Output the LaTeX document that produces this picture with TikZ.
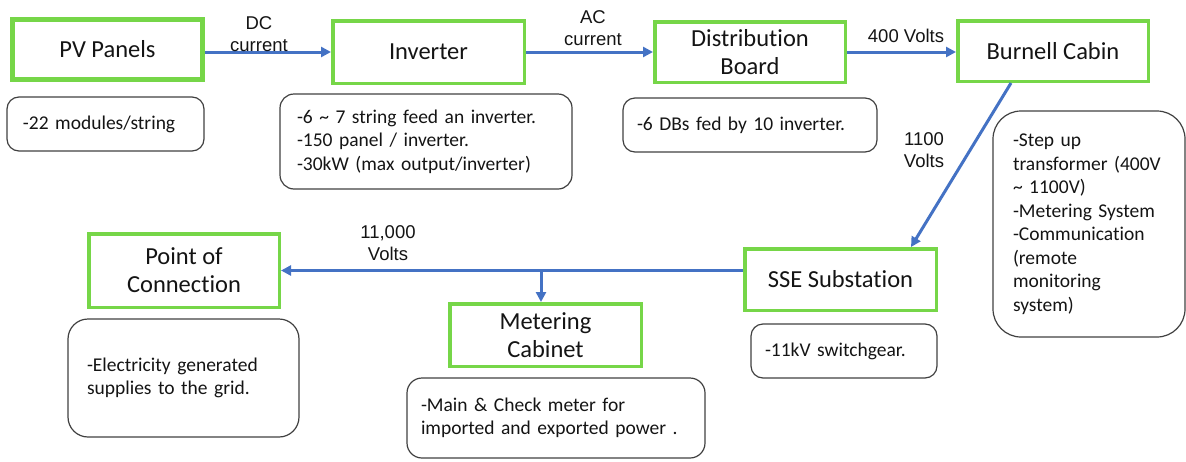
\documentclass[tikz,border=0pt]{standalone}
\usepackage{fontspec}
\setmainfont{Carlito}[Ligatures={NoCommon,NoDiscretionary}]
\newfontfamily\arialfont{Liberation Sans}
\usetikzlibrary{arrows.meta,calc}
\definecolor{boxgreen}{RGB}{118,214,72}
\definecolor{flowblue}{RGB}{68,114,196}
\definecolor{notegray}{RGB}{64,64,64}
\definecolor{txt}{RGB}{20,20,20}
\begin{document}
\begin{tikzpicture}[x=1pt,y=-1pt,
  stage/.style={draw=boxgreen, line width=3.5pt, fill=white, inner sep=0pt, align=center,
    font=\fontsize{24.5}{28}\selectfont, text=txt},
  note/.style={draw=notegray, line width=1.2pt, rounded corners=12pt, inner ysep=0pt, align=left,
    font=\fontsize{19.5}{23.5}\selectfont, text=txt},
  flow/.style={draw=flowblue, line width=3pt, -{Triangle[length=10pt,width=10pt]}},
  vlabel/.style={font=\arialfont\fontsize{18.5}{22}\selectfont, align=center, text=txt, inner sep=0pt}]
\useasboundingbox (0,0) rectangle (1186,461);

% stages
\node[stage, line width=5pt, minimum width=190pt, minimum height=60pt] (pv) at (107.5,49.5) {PV Panels};
\node[stage, minimum width=191.5pt, minimum height=62.5pt] (inv) at (428.5,52) {Inverter};
\node[stage, minimum width=190.5pt, minimum height=60.5pt] (db) at (750,52) {Distribution\\Board};
\node[stage, minimum width=190.5pt, minimum height=60.5pt] (bc) at (1053,51) {Burnell Cabin};
\node[stage, minimum width=190.5pt, minimum height=73.5pt] (poc) at (184,270.5) {Point of\\Connection};
\node[stage, minimum width=191.5pt, minimum height=62.5pt] (met) at (545.5,335) {Metering\\Cabinet};
\node[stage, minimum width=191.5pt, minimum height=61.5pt] (sse) at (840.5,279.5) {SSE Substation};

% notes
\node[note, minimum width=197pt, minimum height=54pt, inner xsep=16pt, text width=165pt] (pvn) at (105.5,124) {-22 modules/string};
\node[note, rounded corners=14pt, minimum width=292pt, minimum height=95pt, inner xsep=17pt, text width=258pt] (invn) at (426,141.5)
  {-6 \textasciitilde\ 7 string feed an inverter.\\-150 panel / inverter.\\-30kW (max output/inverter)};
\node[note, minimum width=254pt, minimum height=54pt, inner xsep=14pt, text width=226pt] (dbn) at (750,125) {-6 DBs fed by 10 inverter.};
\node[note, rounded corners=28pt, minimum width=192pt, minimum height=226pt, inner xsep=20pt, text width=152pt] (bcn) at (1089,224)
  {-Step up\\transformer (400V\\\textasciitilde\ 1100V)\\-Metering System\\-Communication\\(remote\\monitoring\\system)};
\node[note, rounded corners=20pt, minimum width=231pt, minimum height=118pt, inner xsep=19pt, text width=193pt] (pocn) at (183.5,378)
  {-Electricity generated\\supplies to the grid.};
\node[note, rounded corners=15pt, minimum width=298pt, minimum height=80pt, inner xsep=14pt, text width=270pt] (metn) at (556,418)
  {-Main \& Check meter for\\imported and exported power .};
\node[note, minimum width=186pt, minimum height=54pt, inner xsep=14pt, text width=158pt] (ssen) at (844,351) {-11kV switchgear.};

% connectors
\draw[flow] (pv.east |- inv.west) -- (inv.west);
\draw[flow] (inv.east) -- (db.west);
\draw[flow] (db.east) -- (db.east -| bc.west);
\draw[flow] ($(bc.south)+(-42,0)$) -- ($(sse.north)+(70.5,0)$);
\draw[flow] (sse.west |- poc.east) -- (poc.east);
\coordinate (tap) at (541,270.5);
\draw[flow] (tap) -- (tap |- met.north);

% labels
\node[vlabel] (ldc) at (259,34.5) {DC\\current};
\node[vlabel] (lac) at (593,28.5) {AC\\current};
\node[vlabel] (l400) at (906,36) {400 Volts};
\node[vlabel] (l1100) at (924,150.5) {1100\\Volts};
\node[vlabel] (l11k) at (388,243) {11,000\\Volts};
\end{tikzpicture}
\end{document}
